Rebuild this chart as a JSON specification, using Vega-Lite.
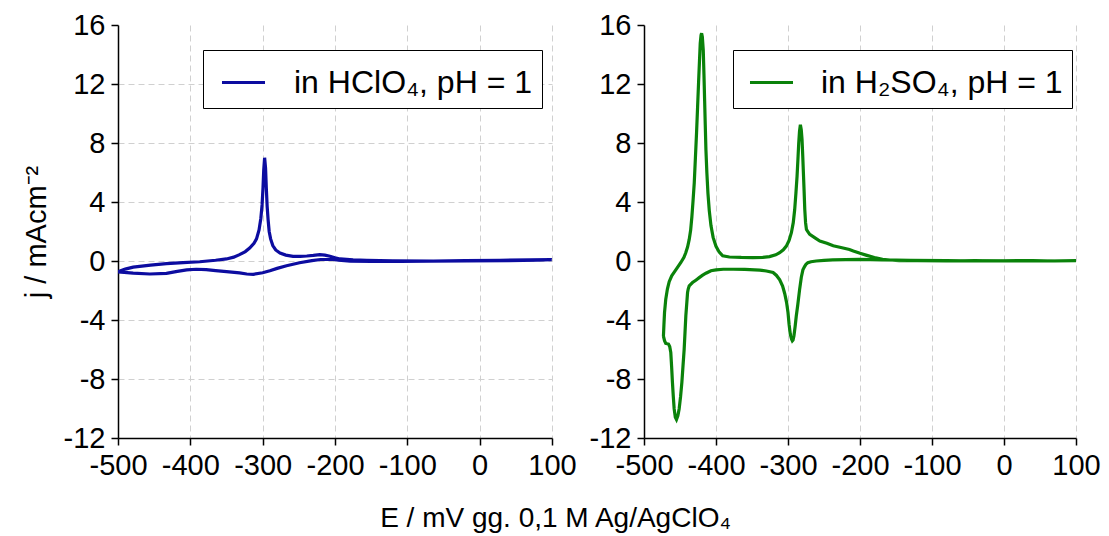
{
  "$schema": "https://vega.github.io/schema/vega-lite/v6.json",
  "autosize": {"type": "none"},
  "padding": {"left": 118, "top": 25, "right": 991, "bottom": 511},
  "background": "white",
  "spacing": 92,
  "bounds": "flush",
  "config": {
    "view": {"stroke": null},
    "font": "Liberation Sans",
    "axis": {
      "domainColor": "black", "domainWidth": 1.5,
      "tickColor": "black", "tickWidth": 1.5, "tickSize": 7,
      "labelFont": "Liberation Sans", "labelFontSize": 29, "labelColor": "black", "labelPadding": 6,
      "labelOverlap": false, "labelFlush": false,
      "titleFont": "Liberation Sans", "titleFontSize": 29, "titleFontWeight": "normal", "titleColor": "black",
      "gridColor": "#d0d0d0", "gridDash": [6, 4], "gridWidth": 1
    }
  },
  "datasets": {
    "hclo4": [
      {"i":1,"E":-500,"j":-0.72},{"i":2,"E":-490,"j":-0.55},{"i":3,"E":-479,"j":-0.42},{"i":4,"E":-455,"j":-0.28},
      {"i":5,"E":-433,"j":-0.18},{"i":6,"E":-410,"j":-0.11},{"i":7,"E":-387,"j":-0.05},{"i":8,"E":-365,"j":0.05},
      {"i":9,"E":-350,"j":0.14},{"i":10,"E":-340,"j":0.26},{"i":11,"E":-332,"j":0.43},{"i":12,"E":-324,"j":0.64},
      {"i":13,"E":-318,"j":0.88},{"i":14,"E":-312,"j":1.2},{"i":15,"E":-308.5,"j":1.5},{"i":16,"E":-305,"j":2.1},
      {"i":17,"E":-302.5,"j":2.9},{"i":18,"E":-300.8,"j":3.8},{"i":19,"E":-299.5,"j":5.0},{"i":20,"E":-298.5,"j":6.2},
      {"i":21,"E":-297.3,"j":7.0},{"i":22,"E":-296,"j":6.3},{"i":23,"E":-295,"j":5.0},{"i":24,"E":-293.8,"j":3.7},
      {"i":25,"E":-292.5,"j":2.8},{"i":26,"E":-291,"j":2.0},{"i":27,"E":-289,"j":1.5},{"i":28,"E":-286,"j":1.05},
      {"i":29,"E":-282,"j":0.75},{"i":30,"E":-276,"j":0.54},{"i":31,"E":-268,"j":0.4},{"i":32,"E":-258,"j":0.32},
      {"i":33,"E":-248,"j":0.32},{"i":34,"E":-239,"j":0.34},{"i":35,"E":-230,"j":0.38},{"i":36,"E":-221,"j":0.43},
      {"i":37,"E":-214,"j":0.4},{"i":38,"E":-207,"j":0.32},{"i":39,"E":-200,"j":0.22},{"i":40,"E":-193,"j":0.14},
      {"i":41,"E":-175,"j":0.07},{"i":42,"E":-156,"j":0.04},{"i":43,"E":-120,"j":0.01},{"i":44,"E":-64,"j":0.0},
      {"i":45,"E":-20,"j":0.02},{"i":46,"E":28,"j":0.05},{"i":47,"E":70,"j":0.07},{"i":48,"E":99.7,"j":0.09},
      {"i":49,"E":80,"j":0.05},{"i":50,"E":40,"j":0.02},{"i":51,"E":-18,"j":0.0},{"i":52,"E":-70,"j":-0.01},
      {"i":53,"E":-110,"j":-0.02},{"i":54,"E":-150,"j":-0.02},{"i":55,"E":-179,"j":-0.01},{"i":56,"E":-195,"j":0.05},
      {"i":57,"E":-205,"j":0.12},{"i":58,"E":-220,"j":0.1},{"i":59,"E":-232,"j":0.02},{"i":60,"E":-249,"j":-0.12},
      {"i":61,"E":-267,"j":-0.32},{"i":62,"E":-280,"j":-0.5},{"i":63,"E":-290,"j":-0.66},{"i":64,"E":-300,"j":-0.8},
      {"i":65,"E":-313,"j":-0.9},{"i":66,"E":-322,"j":-0.88},{"i":67,"E":-332,"j":-0.81},{"i":68,"E":-350,"j":-0.72},
      {"i":69,"E":-365,"j":-0.65},{"i":70,"E":-378,"j":-0.59},{"i":71,"E":-392,"j":-0.56},{"i":72,"E":-405,"j":-0.6},
      {"i":73,"E":-418,"j":-0.7},{"i":74,"E":-433,"j":-0.84},{"i":75,"E":-456,"j":-0.88},{"i":76,"E":-479,"j":-0.82},
      {"i":77,"E":-500,"j":-0.74}
    ],
    "h2so4": [
      {"i":1,"E":-473,"j":-5.1},{"i":2,"E":-472.3,"j":-4.3},{"i":3,"E":-471.5,"j":-3.5},{"i":4,"E":-469.8,"j":-2.6},
      {"i":5,"E":-467.5,"j":-1.9},{"i":6,"E":-465,"j":-1.4},{"i":7,"E":-461.5,"j":-1.0},{"i":8,"E":-458,"j":-0.75},
      {"i":9,"E":-453,"j":-0.4},{"i":10,"E":-448.8,"j":-0.1},{"i":11,"E":-444.5,"j":0.25},{"i":12,"E":-442,"j":0.56},
      {"i":13,"E":-439.5,"j":0.95},{"i":14,"E":-437.2,"j":1.46},{"i":15,"E":-435.2,"j":2.1},{"i":16,"E":-433.5,"j":3.0},
      {"i":17,"E":-432,"j":4.0},{"i":18,"E":-430.2,"j":5.3},{"i":19,"E":-428.6,"j":7.0},{"i":20,"E":-427,"j":8.7},
      {"i":21,"E":-425.6,"j":10.4},{"i":22,"E":-424.2,"j":12.1},{"i":23,"E":-423,"j":13.5},{"i":24,"E":-421.9,"j":14.76},
      {"i":25,"E":-420.8,"j":15.3},{"i":26,"E":-420,"j":15.44},{"i":27,"E":-419,"j":15.2},{"i":28,"E":-417.7,"j":14.3},
      {"i":29,"E":-416.7,"j":12.6},{"i":30,"E":-415.8,"j":10.9},{"i":31,"E":-414.9,"j":9.2},{"i":32,"E":-414,"j":7.55},
      {"i":33,"E":-412.7,"j":6.0},{"i":34,"E":-411.2,"j":4.6},{"i":35,"E":-409.3,"j":3.4},{"i":36,"E":-407,"j":2.4},
      {"i":37,"E":-404,"j":1.6},{"i":38,"E":-400,"j":1.0},{"i":39,"E":-395.5,"j":0.6},{"i":40,"E":-390.7,"j":0.35},
      {"i":41,"E":-381.4,"j":0.27},{"i":42,"E":-365,"j":0.24},{"i":43,"E":-348.8,"j":0.23},{"i":44,"E":-335,"j":0.25},
      {"i":45,"E":-325.6,"j":0.3},{"i":46,"E":-317,"j":0.42},{"i":47,"E":-311.6,"j":0.56},{"i":48,"E":-306.5,"j":0.76},
      {"i":49,"E":-302.3,"j":1.01},{"i":50,"E":-298.5,"j":1.4},{"i":51,"E":-295.3,"j":1.92},{"i":52,"E":-292.7,"j":2.6},
      {"i":53,"E":-290.7,"j":3.49},{"i":54,"E":-289,"j":4.6},{"i":55,"E":-287.4,"j":5.75},{"i":56,"E":-286.2,"j":6.9},
      {"i":57,"E":-285.1,"j":8.0},{"i":58,"E":-284,"j":8.8},{"i":59,"E":-282.8,"j":9.24},{"i":60,"E":-281.6,"j":8.9},
      {"i":61,"E":-280.5,"j":8.23},{"i":62,"E":-279.5,"j":7.1},{"i":63,"E":-278.6,"j":5.97},{"i":64,"E":-277.6,"j":4.7},
      {"i":65,"E":-276.7,"j":3.49},{"i":66,"E":-275.6,"j":2.6},{"i":67,"E":-274.4,"j":2.14},{"i":68,"E":-272,"j":1.95},
      {"i":69,"E":-269.8,"j":1.8},{"i":70,"E":-262,"j":1.55},{"i":71,"E":-255.8,"j":1.35},{"i":72,"E":-246,"j":1.2},
      {"i":73,"E":-237.2,"j":1.03},{"i":74,"E":-225,"j":0.9},{"i":75,"E":-214.7,"j":0.78},{"i":76,"E":-209.3,"j":0.68},
      {"i":77,"E":-200,"j":0.52},{"i":78,"E":-191.7,"j":0.4},{"i":79,"E":-180,"j":0.24},{"i":80,"E":-168.7,"j":0.11},
      {"i":81,"E":-155,"j":0.05},{"i":82,"E":-145.6,"j":0.02},{"i":83,"E":-120,"j":0.03},{"i":84,"E":-80,"j":0.0},
      {"i":85,"E":-40,"j":0.03},{"i":86,"E":0,"j":0.0},{"i":87,"E":40,"j":0.02},{"i":88,"E":70,"j":0.0},
      {"i":89,"E":101,"j":0.02},{"i":90,"E":60,"j":0.0},{"i":91,"E":20,"j":0.02},{"i":92,"E":-30,"j":0.0},
      {"i":93,"E":-80,"j":0.02},{"i":94,"E":-130,"j":0.05},{"i":95,"E":-170,"j":0.08},{"i":96,"E":-200.9,"j":0.11},
      {"i":97,"E":-220,"j":0.09},{"i":98,"E":-237.8,"j":0.07},{"i":99,"E":-250,"j":0.04},{"i":100,"E":-260.8,"j":0.0},
      {"i":101,"E":-268,"j":-0.05},{"i":102,"E":-272.5,"j":-0.12},{"i":103,"E":-275,"j":-0.22},{"i":104,"E":-277,"j":-0.38},
      {"i":105,"E":-279.3,"j":-0.6},{"i":106,"E":-281.5,"j":-1.1},{"i":107,"E":-283.9,"j":-1.94},{"i":108,"E":-286.5,"j":-3.0},
      {"i":109,"E":-288.5,"j":-3.73},{"i":110,"E":-290,"j":-4.4},{"i":111,"E":-291.7,"j":-5.07},{"i":112,"E":-293,"j":-5.35},
      {"i":113,"E":-294,"j":-5.41},{"i":114,"E":-295,"j":-5.3},{"i":115,"E":-296.8,"j":-4.96},{"i":116,"E":-298.5,"j":-4.3},
      {"i":117,"E":-300,"j":-3.5},{"i":118,"E":-302,"j":-2.8},{"i":119,"E":-304.6,"j":-2.2},{"i":120,"E":-307.5,"j":-1.7},
      {"i":121,"E":-311.5,"j":-1.28},{"i":122,"E":-316,"j":-0.98},{"i":123,"E":-320.7,"j":-0.78},{"i":124,"E":-330,"j":-0.68},
      {"i":125,"E":-339.2,"j":-0.62},{"i":126,"E":-360,"j":-0.57},{"i":127,"E":-376,"j":-0.56},{"i":128,"E":-390,"j":-0.56},
      {"i":129,"E":-400,"j":-0.6},{"i":130,"E":-407,"j":-0.66},{"i":131,"E":-414,"j":-0.83},{"i":132,"E":-419,"j":-0.98},
      {"i":133,"E":-423.3,"j":-1.13},{"i":134,"E":-428,"j":-1.3},{"i":135,"E":-432.6,"j":-1.46},{"i":136,"E":-435.5,"j":-1.6},
      {"i":137,"E":-437.2,"j":-1.69},{"i":138,"E":-438.6,"j":-1.9},{"i":139,"E":-439.5,"j":-2.14},{"i":140,"E":-440.5,"j":-2.8},
      {"i":141,"E":-441.9,"j":-3.72},{"i":142,"E":-443,"j":-4.8},{"i":143,"E":-444.2,"j":-5.97},{"i":144,"E":-445.8,"j":-7.1},
      {"i":145,"E":-447.4,"j":-8.23},{"i":146,"E":-449.2,"j":-9.2},{"i":147,"E":-451.2,"j":-10.03},{"i":148,"E":-453,"j":-10.5},
      {"i":149,"E":-454.9,"j":-10.75},{"i":150,"E":-456.5,"j":-10.6},{"i":151,"E":-458.1,"j":-10.03},{"i":152,"E":-459.3,"j":-9.2},
      {"i":153,"E":-460.5,"j":-8.23},{"i":154,"E":-461.6,"j":-7.2},{"i":155,"E":-462.8,"j":-6.2},{"i":156,"E":-464.3,"j":-5.8},
      {"i":157,"E":-466,"j":-5.63},{"i":158,"E":-469.8,"j":-5.59},{"i":159,"E":-471.5,"j":-5.4},{"i":160,"E":-473,"j":-5.1}
    ]
  },
  "resolve": {"scale": {"color": "independent", "x": "independent", "y": "independent"}, "legend": {"color": "independent"}},
  "hconcat": [
    {
      "width": 434, "height": 413,
      "layer": [
        {
          "data": {"name": "hclo4"},
          "transform": [{"calculate": "'in HClO₄, pH = 1'", "as": "series"}],
          "mark": {"type": "line", "strokeWidth": 3.2, "clip": true, "interpolate": "linear"},
          "encoding": {
            "x": {"field": "E", "type": "quantitative", "scale": {"domain": [-500, 100], "nice": false, "zero": false},
              "axis": {"values": [-500,-450,-400,-350,-300,-250,-200,-150,-100,-50,0,50,100],
                "labelExpr": "datum.value % 100 == 0 ? '' + datum.value : ''",
                "gridOpacity": {"condition": {"test": "datum.value % 100 != 0 || datum.value == -500", "value": 0}, "value": 1},
                "title": "E / mV gg. 0,1 M Ag/AgClO₄", "titleX": 437, "titleY": 66, "titleFontSize": 28}},
            "y": {"field": "j", "type": "quantitative", "scale": {"domain": [-12, 16], "nice": false, "zero": false},
              "axis": {"values": [-12,-10,-8,-6,-4,-2,0,2,4,6,8,10,12,14,16],
                "labelExpr": "datum.value % 4 == 0 ? '' + datum.value : ''",
                "gridOpacity": {"condition": {"test": "datum.value % 4 != 0 || datum.value == -12 || datum.value == 16", "value": 0}, "value": 1},
                "title": "j / mAcm⁻²", "titlePadding": 12}},
            "order": {"field": "i", "type": "quantitative"},
            "color": {"field": "series", "type": "nominal",
              "scale": {"domain": ["in HClO₄, pH = 1"], "range": ["#0c0ca0"]},
              "legend": {"title": null, "orient": "none", "legendX": 85, "legendY": 25,
                "symbolType": "stroke", "symbolSize": 1850, "symbolStrokeWidth": 3, "symbolOffset": 8,
                "labelFontSize": 32, "labelFont": "Liberation Sans", "labelColor": "black", "labelOffset": 27, "labelLimit": 500,
                "strokeColor": "black", "fillColor": "white", "padding": 9}}
          }
        },
        {
          "mark": {"type": "text", "align": "left", "baseline": "alphabetic", "fontSize": 30, "font": "Liberation Sans", "color": "black"},
          "encoding": {"x": {"datum": -496}, "y": {"datum": 14}, "text": {"value": "(A)"}}
        }
      ]
    },
    {
      "width": 432, "height": 413,
      "layer": [
        {
          "mark": {"type": "rule", "color": "#c8c8c8", "strokeWidth": 1},
          "encoding": {"y": {"datum": 0}}
        },
        {
          "data": {"name": "h2so4"},
          "transform": [{"calculate": "'in H₂SO₄, pH = 1'", "as": "series"}],
          "mark": {"type": "line", "strokeWidth": 3.2, "clip": true, "interpolate": "linear"},
          "encoding": {
            "x": {"field": "E", "type": "quantitative", "scale": {"domain": [-500, 100], "nice": false, "zero": false},
              "axis": {"values": [-500,-450,-400,-350,-300,-250,-200,-150,-100,-50,0,50,100],
                "labelExpr": "datum.value % 100 == 0 ? '' + datum.value : ''",
                "gridOpacity": {"condition": {"test": "datum.value % 100 != 0 || datum.value == -500", "value": 0}, "value": 1},
                "title": null}},
            "y": {"field": "j", "type": "quantitative", "scale": {"domain": [-12, 16], "nice": false, "zero": false},
              "axis": {"values": [-12,-10,-8,-6,-4,-2,0,2,4,6,8,10,12,14,16],
                "labelExpr": "datum.value % 4 == 0 ? '' + datum.value : ''",
                "gridOpacity": {"condition": {"test": "datum.value % 4 != 0 || datum.value == -12 || datum.value == 16", "value": 0}, "value": 1},
                "title": null}},
            "order": {"field": "i", "type": "quantitative"},
            "color": {"field": "series", "type": "nominal",
              "scale": {"domain": ["in H₂SO₄, pH = 1"], "range": ["#0a820a"]},
              "legend": {"title": null, "orient": "none", "legendX": 89, "legendY": 25,
                "symbolType": "stroke", "symbolSize": 1850, "symbolStrokeWidth": 3, "symbolOffset": 6,
                "labelFontSize": 32, "labelFont": "Liberation Sans", "labelColor": "black", "labelOffset": 26, "labelLimit": 500,
                "strokeColor": "black", "fillColor": "white", "padding": 9}}
          }
        },
        {
          "mark": {"type": "text", "align": "left", "baseline": "alphabetic", "fontSize": 30, "font": "Liberation Sans", "color": "black"},
          "encoding": {"x": {"datum": -494}, "y": {"datum": 14}, "text": {"value": "(B)"}}
        }
      ]
    }
  ]
}
